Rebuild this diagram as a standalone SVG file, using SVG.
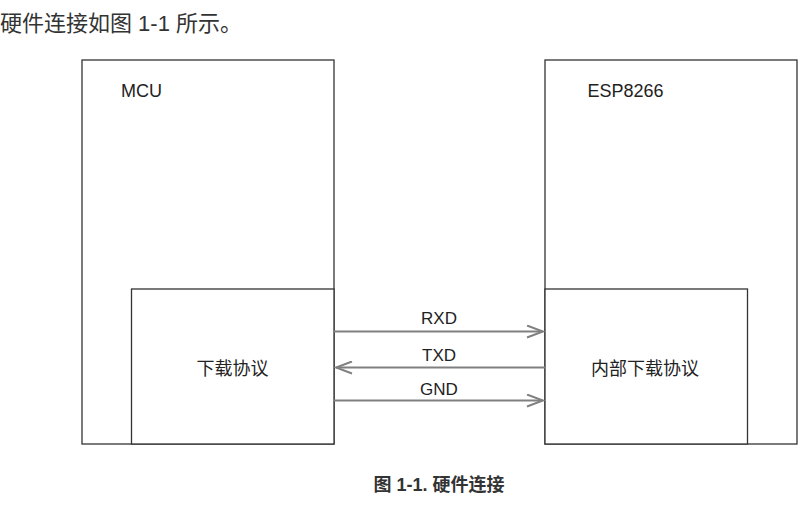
<svg xmlns="http://www.w3.org/2000/svg" width="803" height="507" viewBox="0 0 803 507">
<defs>
<marker id="arr" markerWidth="20" markerHeight="14" refX="18" refY="7" orient="auto" markerUnits="userSpaceOnUse">
<path d="M2,1 L18,7 L2,13" fill="none" stroke="#808080" stroke-width="2"/>
</marker>
<style>
.box{fill:#fff;stroke:#333;stroke-width:1.3}
.t{font-family:"Liberation Sans","Noto Sans CJK SC",sans-serif;font-size:18px;fill:#222}
.s{font-size:17px}
.c{text-anchor:middle}
.ln{stroke:#808080;stroke-width:2;fill:none}
</style>
</defs>
<rect width="803" height="507" fill="#fff"/>
<text class="t" x="0" y="31" style="font-size:22px;fill:#333">硬件连接如图 1-1 所示。</text>
<g id="mcu">
<rect class="box" x="82" y="60" width="252" height="384"/>
<text class="t" x="121" y="97">MCU</text>
</g>
<g id="mcu-proto">
<rect class="box" x="131.5" y="289" width="202.5" height="155"/>
<text class="t c" x="232.5" y="375">下载协议</text>
</g>
<g id="esp">
<rect class="box" x="545" y="60" width="252" height="384"/>
<text class="t" x="587.5" y="97">ESP8266</text>
</g>
<g id="esp-proto">
<rect class="box" x="545" y="289" width="202.5" height="155"/>
<text class="t c" x="645" y="375">内部下载协议</text>
</g>
<g id="connectors">
<line class="ln" x1="334" y1="331.5" x2="543" y2="331.5" marker-end="url(#arr)"/>
<text class="t s c" x="439" y="324">RXD</text>
<line class="ln" x1="545" y1="367.5" x2="336" y2="367.5" marker-end="url(#arr)"/>
<text class="t s c" x="439" y="361">TXD</text>
<line class="ln" x1="334" y1="400.5" x2="543" y2="400.5" marker-end="url(#arr)"/>
<text class="t s c" x="439" y="395">GND</text>
</g>
<text class="t c" x="439" y="491" style="font-size:18px;font-weight:bold;fill:#333">图 1-1. 硬件连接</text>
</svg>
